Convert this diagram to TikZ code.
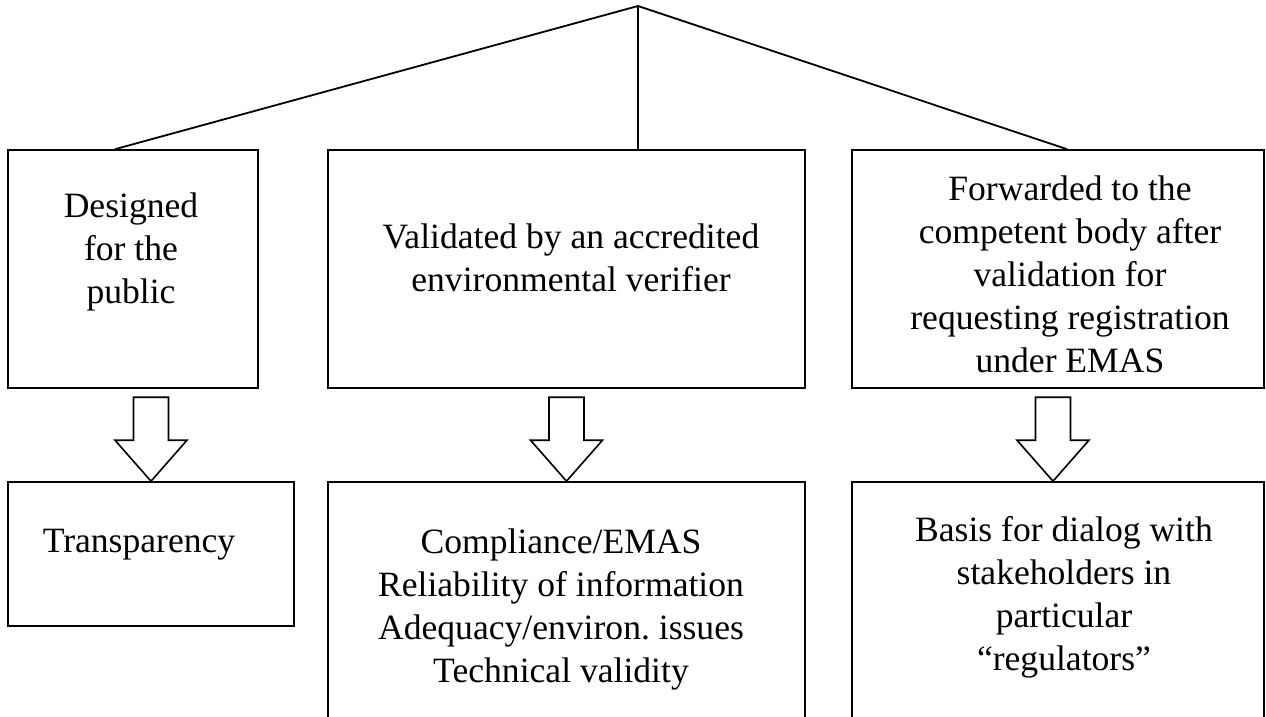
\documentclass[tikz,border=0pt]{standalone}
\usepackage{fontspec}
\setmainfont{Liberation Serif}
\usepackage{tikz}
\usetikzlibrary{
  positioning,
  calc,
}
\frenchspacing
\tikzset{
  every node/.append style={text=black},
  stmt/.style={
    font=\fontsize{17.8}{21.5}\selectfont,
    align=center,
    inner sep=0pt,
  },
  panel/.style={
    draw=black,
    line width=0.8pt,
    inner sep=0pt,
    minimum width=#1,
  },
  pics/downarrow/.style={
    code={
      \draw[line width=0.8pt, fill=white]
        (0,0) -- (-36,-41) -- (-17.5,-41) -- (-17.5,-84)
        -- (17.5,-84) -- (17.5,-41) -- (36,-41) -- cycle;
    }
  },
}

\begin{document}
\begin{tikzpicture}[x=0.5pt,y=-0.5pt]
  \useasboundingbox (0,0) rectangle (1266,717);
  \clip (0,0) rectangle (1266,717);
  \fill[white] (0,0) rectangle (1266,717);

  % top row
  \node[panel=125pt, minimum height=119pt] (top1) at (133,269) {};
  \node[panel=238.5pt, minimum height=119pt] (top2) at (566.5,269) {};
  \node[panel=206pt, minimum height=119pt] (top3) at (1058,269) {};

  \node[stmt] (t1) at (131,252) {Designed\\for the\\public};
  \node[stmt] (t2) at (571,258) {Validated by an accredited\\environmental verifier};
  \node[stmt] (t3) at (1070,274.5) {Forwarded to the\\competent body after\\validation for\\requesting registration\\under EMAS};

  % branches
  \coordinate (apex) at (638,6);
  \draw[line width=0.9pt] (apex) -- ([xshift=-9pt]top1.north);
  \draw[line width=0.6pt] (apex) -- (apex |- top2.north);
  \draw[line width=0.9pt] (apex) -- ([xshift=4.5pt]top3.north);

  % bottom row
  \node[panel=143pt, minimum height=72pt] (bot1) at (151,554) {};
  \node[panel=238.5pt, minimum height=129pt] (bot2) at (566.5,611) {};
  \node[panel=206pt, minimum height=129pt] (bot3) at (1058,611) {};

  \node[stmt] (b1) at (139,545) {Transparency};
  \node[stmt] (b2) at (561,609.5) {Compliance/EMAS\\Reliability of information\\Adequacy/environ. issues\\Technical validity};
  \node[stmt] (b3) at (1064,597) {Basis for dialog with\\stakeholders in\\particular\\``regulators''};

  % block arrows
  \pic at (bot1.north) {downarrow};
  \pic at (bot2.north) {downarrow};
  \pic at ([xshift=-2.5pt]bot3.north) {downarrow};
\end{tikzpicture}
\end{document}
